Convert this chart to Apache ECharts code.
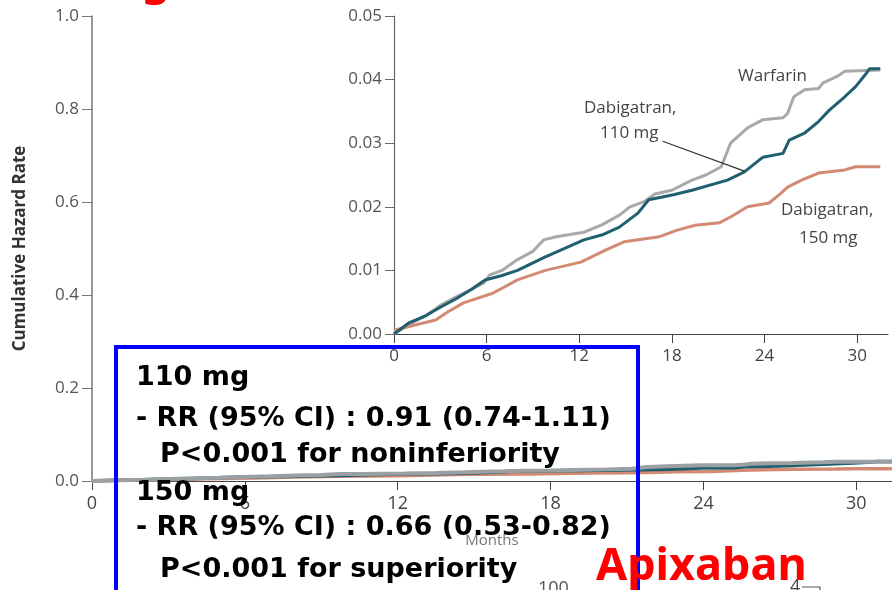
<!DOCTYPE html>
<html>
	<head>
		<title>Cumulative Hazard Rate</title>
		<meta charset="utf-8"/>
		<style type="text/css">
			*{margin: 0;padding: 0;}
			html,body{
				width: 892px;
				height: 590px;
				overflow: hidden;
				background-color: #fff;
			}
			.chart{
				width: 892px;
				height: 590px;
			}
		</style>
		<script type="text/javascript" src="https://cdn.jsdelivr.net/npm/echarts@6/dist/echarts.min.js"></script>
	</head>
	<body>
		<div class="chart js-chart"></div>
		<script type="text/javascript">
			// 数据 (months / cumulative hazard)
			var warfarinMonths=[0,1,2,3,4,5,5.8,6.2,7,8,9,9.7,10.5,12.3,13.5,14.6,15.3,16.2,16.9,18,19.3,20.2,21.2,21.8,22.9,23.9,25.2,25.5,25.9,26.6,27.5,27.8,28.7,29.2,31.5];
			var warfarinRate=[0,0.0015,0.0028,0.0045,0.0058,0.007,0.008,0.0093,0.0100,0.0117,0.0130,0.0148,0.0153,0.0160,0.0172,0.0187,0.0200,0.0208,0.0220,0.0226,0.0242,0.0250,0.0263,0.0300,0.0324,0.0337,0.0340,0.0347,0.0373,0.0384,0.0386,0.0395,0.0405,0.0413,0.0415];
			var dab110Months=[0,1,2,3,4,5,5.9,7,8,9.7,10.8,12.3,13.5,14.6,15.8,16.5,18.1,19.3,21.6,22.7,23.9,25.2,25.6,26.6,27.5,28.2,29.2,29.9,30.6,30.8,31.5];
			var dab110Rate=[0,0.0018,0.0028,0.0042,0.0055,0.007,0.0085,0.0092,0.0100,0.0120,0.0132,0.0148,0.0156,0.0168,0.0190,0.0211,0.0219,0.0226,0.0242,0.0255,0.0278,0.0284,0.0305,0.0316,0.0334,0.0352,0.0373,0.0389,0.0410,0.0417,0.0417];
			var dab150Months=[0,1.5,2.7,3.5,4.5,6.4,8,9.8,12.1,13.7,14.9,17.2,18.3,19.5,21.1,21.8,22.9,24.3,25,25.5,26.4,27.5,29.2,29.9,31.5];
			var dab150Rate=[0.0006,0.0015,0.0022,0.0035,0.0049,0.0064,0.0085,0.0100,0.0113,0.0132,0.0145,0.0153,0.0163,0.0171,0.0175,0.0184,0.0200,0.0206,0.0220,0.0231,0.0242,0.0253,0.0258,0.0263,0.0263];
			var monthTicks=[0,6,12,18,24,30];
			var boxLines=["110 mg","- RR (95% CI) : 0.91 (0.74-1.11)","P<0.001 for noninferiority","150 mg","- RR (95% CI) : 0.66 (0.53-0.82)","P<0.001 for superiority"];

			var cWar="#a9a9a9",c110="#1f5f70",c150="#d38a72";
			var axisFont="'Open Sans', sans-serif";

			function pairs(xs,ys){
				var arr=[];
				for(var i=0;i<xs.length;i++){
					arr.push([xs[i],ys[i]]);
				}
				return arr;
			}

			var chart=echarts.init(document.querySelector('.js-chart'));

			// 框内文字
			var gText=[];
			var baseY=[388,429,465,503,538,580];
			var lineX=[136,136,160,136,136,160];
			for(var i=0;i<boxLines.length;i++){
				gText.push({
					type:'text',
					z:100,
					style:{
						x:lineX[i],
						y:baseY[i]-10,
						text:boxLines[i],
						verticalAlign:'middle',
						font:"bold 27px 'DejaVu Sans', sans-serif",
						fill:'#000'
					}
				});
			}

			var option={
				animation:false,
				backgroundColor:'#fff',
				grid:[
					{left:92,top:16,right:0,bottom:109,containLabel:false},
					{left:394,top:16,right:4,bottom:256,containLabel:false}
				],
				xAxis:[
					{
						gridIndex:0,type:'value',min:0,max:31.4,
						name:'Months',nameLocation:'middle',nameGap:52,
						nameTextStyle:{color:'#777',fontSize:15,fontFamily:axisFont},
						axisLine:{lineStyle:{color:'#444',width:1.2}},
						axisTick:{length:9,lineStyle:{color:'#444'},customValues:monthTicks},
						axisLabel:{color:'#444',fontSize:18,fontFamily:axisFont,margin:14,customValues:monthTicks},
						splitLine:{show:false}
					},
					{
						gridIndex:1,type:'value',min:0,max:32,
						axisLine:{lineStyle:{color:'#444',width:1.2}},
						axisTick:{length:9,lineStyle:{color:'#444'},customValues:monthTicks},
						axisLabel:{color:'#444',fontSize:17,fontFamily:axisFont,margin:14,customValues:monthTicks},
						splitLine:{show:false}
					}
				],
				yAxis:[
					{
						gridIndex:0,type:'value',min:0,max:1,interval:0.2,
						name:'Cumulative Hazard Rate',nameLocation:'middle',nameGap:63,
						nameTextStyle:{color:'#333',fontSize:17,fontWeight:'bold',fontFamily:axisFont},
						axisLine:{show:true,lineStyle:{color:'#777',width:1.5}},
						axisTick:{show:true,length:10,lineStyle:{color:'#777'}},
						axisLabel:{color:'#555',fontSize:17,fontFamily:axisFont,margin:13,formatter:function(v){return v.toFixed(1);}},
						splitLine:{show:false}
					},
					{
						gridIndex:1,type:'value',min:0,max:0.05,interval:0.01,
						axisLine:{show:true,lineStyle:{color:'#666',width:1.2}},
						axisTick:{show:true,length:9,lineStyle:{color:'#666'}},
						axisLabel:{color:'#555',fontSize:17,fontFamily:axisFont,margin:12,formatter:function(v){return v.toFixed(2);}},
						splitLine:{show:false}
					}
				],
				series:[
					{type:'line',xAxisIndex:0,yAxisIndex:0,data:pairs(dab150Months,dab150Rate),showSymbol:false,lineStyle:{color:c150,width:3.5}},
					{type:'line',xAxisIndex:0,yAxisIndex:0,data:pairs(dab110Months,dab110Rate),showSymbol:false,lineStyle:{color:c110,width:3.5}},
					{type:'line',xAxisIndex:0,yAxisIndex:0,data:pairs(warfarinMonths,warfarinRate),showSymbol:false,lineStyle:{color:'#9aa0a3',width:4}},
					{type:'line',xAxisIndex:1,yAxisIndex:1,data:pairs(warfarinMonths,warfarinRate),showSymbol:false,lineStyle:{color:cWar,width:3}},
					{type:'line',xAxisIndex:1,yAxisIndex:1,data:pairs(dab150Months,dab150Rate),showSymbol:false,lineStyle:{color:c150,width:3}},
					{
						type:'line',xAxisIndex:1,yAxisIndex:1,data:pairs(dab110Months,dab110Rate),showSymbol:false,lineStyle:{color:c110,width:3},
						markLine:{
							silent:true,symbol:['none','none'],
							label:{show:false},
							lineStyle:{color:'#333',width:1.2,type:'solid'},
							data:[[{coord:[17.4,0.0303]},{coord:[22.7,0.0256]}]]
						}
					}
				],
				graphic:[
					{type:'text',style:{x:738,y:76,verticalAlign:'middle',text:'Warfarin',font:"17px "+axisFont,fill:'#444'}},
					{type:'text',style:{x:584,y:108,verticalAlign:'middle',text:'Dabigatran,',font:"17px "+axisFont,fill:'#444'}},
					{type:'text',style:{x:600,y:133,verticalAlign:'middle',text:'110 mg',font:"17px "+axisFont,fill:'#444'}},
					{type:'text',style:{x:781,y:210,verticalAlign:'middle',text:'Dabigatran,',font:"17px "+axisFont,fill:'#444'}},
					{type:'text',style:{x:799,y:238,verticalAlign:'middle',text:'150 mg',font:"17px "+axisFont,fill:'#444'}},
					{type:'rect',z:100,shape:{x:116,y:347,width:522,height:280},style:{fill:'none',stroke:'#0000ff',lineWidth:4}},
					{type:'text',z:100,style:{x:596,y:567,verticalAlign:'middle',text:'Apixaban',font:"bold 45px 'Noto Sans', sans-serif",fill:'#ff0000'}},
					{type:'text',z:100,style:{x:40,y:-19,verticalAlign:'middle',text:'Dabigatran',font:"bold 45px 'Noto Sans', sans-serif",fill:'#ff0000'}},
					{type:'text',left:538,top:580,style:{text:'100',font:"18px "+axisFont,fill:'#555'}},
					{type:'text',left:790,top:578,style:{text:'4',font:"18px "+axisFont,fill:'#444'}},
					{type:'polyline',shape:{points:[[802,587],[820,587],[820,600]]},style:{stroke:'#555',lineWidth:1.2,fill:'none'}}
				].concat(gText)
			};
			chart.setOption(option);
		</script>
	</body>
</html>
